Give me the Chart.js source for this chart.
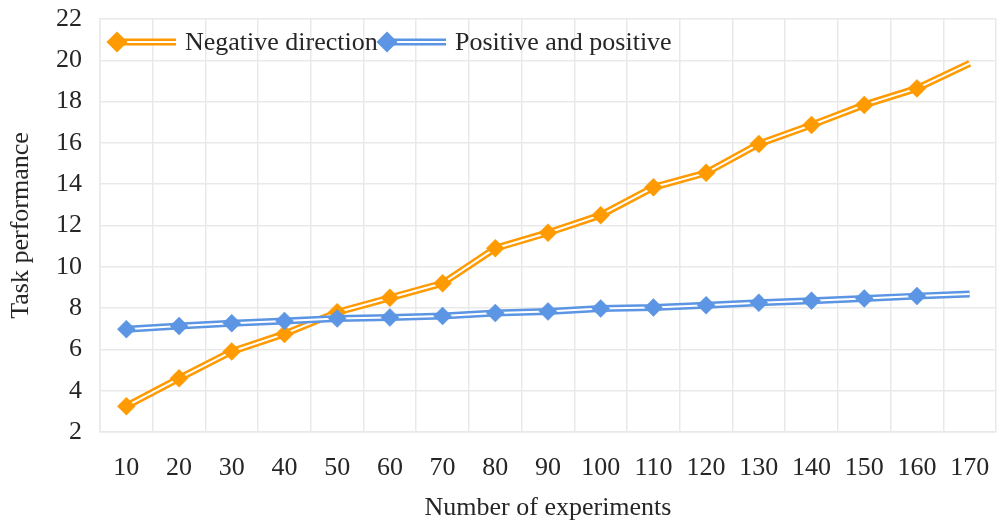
<!DOCTYPE html>
<html>
<head>
<meta charset="utf-8">
<title>Task performance</title>
<script src="https://cdn.jsdelivr.net/npm/chart.js@4/dist/chart.umd.min.js"></script>
<style>
    html, body { margin: 0; padding: 0; background: #fff; }
    #wrap { width: 998px; height: 527px; }
</style>
</head>
<body>
<div id="wrap"><canvas id="perfChart"></canvas></div>
<script>
// ==== Data ====
const experiments = ['10', '20', '30', '40', '50', '60', '70', '80', '90',
    '100', '110', '120', '130', '140', '150', '160', '170'];
const negativeDirection = [3.25, 4.6, 5.9, 6.75, 7.8, 8.5, 9.2, 10.9, 11.65,
    12.5, 13.85, 14.55, 15.95, 16.87, 17.84, 18.64, 19.85];
const positiveAndPositive = [6.98, 7.13, 7.27, 7.38, 7.5, 7.55, 7.62, 7.76, 7.84,
    7.98, 8.03, 8.14, 8.26, 8.36, 8.47, 8.58, 8.68];
const seriesNames = ['Negative direction', 'Positive and positive'];
const seriesColors = ['#ff9a00', '#5b95e3'];

const FONT = "'Liberation Serif', 'Times New Roman', serif";
const TEXT = '#262626';
const GRID = '#e9e9e9';

// the last point has a line but no marker
const markerSizes = experiments.map((_, i) => i === experiments.length - 1 ? 0 : 9);

// each series is drawn as: outer coloured line, thin white stripe, markers
function doubleLine(data, color, name, baseOrder) {
    return [
        { label: name, data: data, borderColor: color, borderWidth: 7,
          pointRadius: 0, fill: false, tension: 0, order: baseOrder + 2 },
        { label: name + '-inner', data: data, borderColor: '#ffffff', borderWidth: 2,
          pointRadius: 0, fill: false, tension: 0, order: baseOrder + 1 },
        { label: name + '-marks', data: data, showLine: false, pointStyle: 'rectRot',
          pointRadius: markerSizes, pointBackgroundColor: color, pointBorderColor: color,
          pointBorderWidth: 0.5, order: baseOrder }
    ];
}

// ==== Legend drawn inside the plot, line + diamond like the series ====
const insideLegend = {
    id: 'insideLegend',
    afterDatasetsDraw(chart) {
        const { ctx, chartArea } = chart;
        const y = chartArea.top + 23;
        ctx.save();
        seriesNames.forEach((name, i) => {
            const x0 = chartArea.left + 17 + i * 270;
            ctx.strokeStyle = seriesColors[i];
            ctx.lineWidth = 7;
            ctx.beginPath();
            ctx.moveTo(x0, y);
            ctx.lineTo(x0 + 59, y);
            ctx.stroke();
            ctx.strokeStyle = '#ffffff';
            ctx.lineWidth = 2;
            ctx.beginPath();
            ctx.moveTo(x0 + 8, y);
            ctx.lineTo(x0 + 59, y);
            ctx.stroke();
            ctx.fillStyle = seriesColors[i];
            ctx.beginPath();
            ctx.moveTo(x0, y - 10.5);
            ctx.lineTo(x0 + 10.5, y);
            ctx.lineTo(x0, y + 10.5);
            ctx.lineTo(x0 - 10.5, y);
            ctx.closePath();
            ctx.fill();
            ctx.fillStyle = TEXT;
            ctx.font = '26px ' + FONT;
            ctx.textBaseline = 'middle';
            ctx.fillText(name, x0 + 68, y + 1);
        });
        ctx.restore();
    }
};

const ctx = document.getElementById('perfChart').getContext('2d');
const perfChart = new Chart(ctx, {
    type: 'line',
    data: {
        labels: experiments,
        datasets: [
            ...doubleLine(negativeDirection, seriesColors[0], seriesNames[0], 4),
            ...doubleLine(positiveAndPositive, seriesColors[1], seriesNames[1], 1)
        ]
    },
    options: {
        responsive: true,
        maintainAspectRatio: false,
        animation: false,
        layout: { autoPadding: false, padding: { top: 0, right: 2, left: 0, bottom: 0 } },
        plugins: {
            legend: { display: false },
            tooltip: { enabled: false }
        },
        scales: {
            x: {
                offset: true,
                grid: { offset: true, color: GRID, lineWidth: 1.5, drawTicks: false },
                border: { display: true, color: GRID, width: 1.5 },
                ticks: { color: TEXT, font: { family: FONT, size: 26 }, padding: 21,
                    autoSkip: false, maxRotation: 0 },
                title: { display: true, text: 'Number of experiments', color: TEXT,
                    font: { family: FONT, size: 26 }, padding: { top: 0, bottom: 3 } },
                afterFit(scale) {
                    scale.height = 95;
                    scale.paddingLeft = 0;
                    scale.paddingRight = 0;
                }
            },
            y: {
                min: 2,
                max: 22,
                grid: { color: GRID, lineWidth: 1.5, drawTicks: false },
                border: { display: true, color: GRID, width: 1.5 },
                ticks: { stepSize: 2, color: TEXT, font: { family: FONT, size: 26 }, padding: 18 },
                title: { display: true, text: 'Task performance', color: TEXT,
                    font: { family: FONT, size: 26 }, padding: { top: 6, bottom: 0 } },
                afterFit(scale) {
                    scale.width = 100;
                    scale.paddingTop = 19;
                    scale.paddingBottom = 0;
                }
            }
        }
    },
    plugins: [insideLegend]
});
</script>
</body>
</html>
